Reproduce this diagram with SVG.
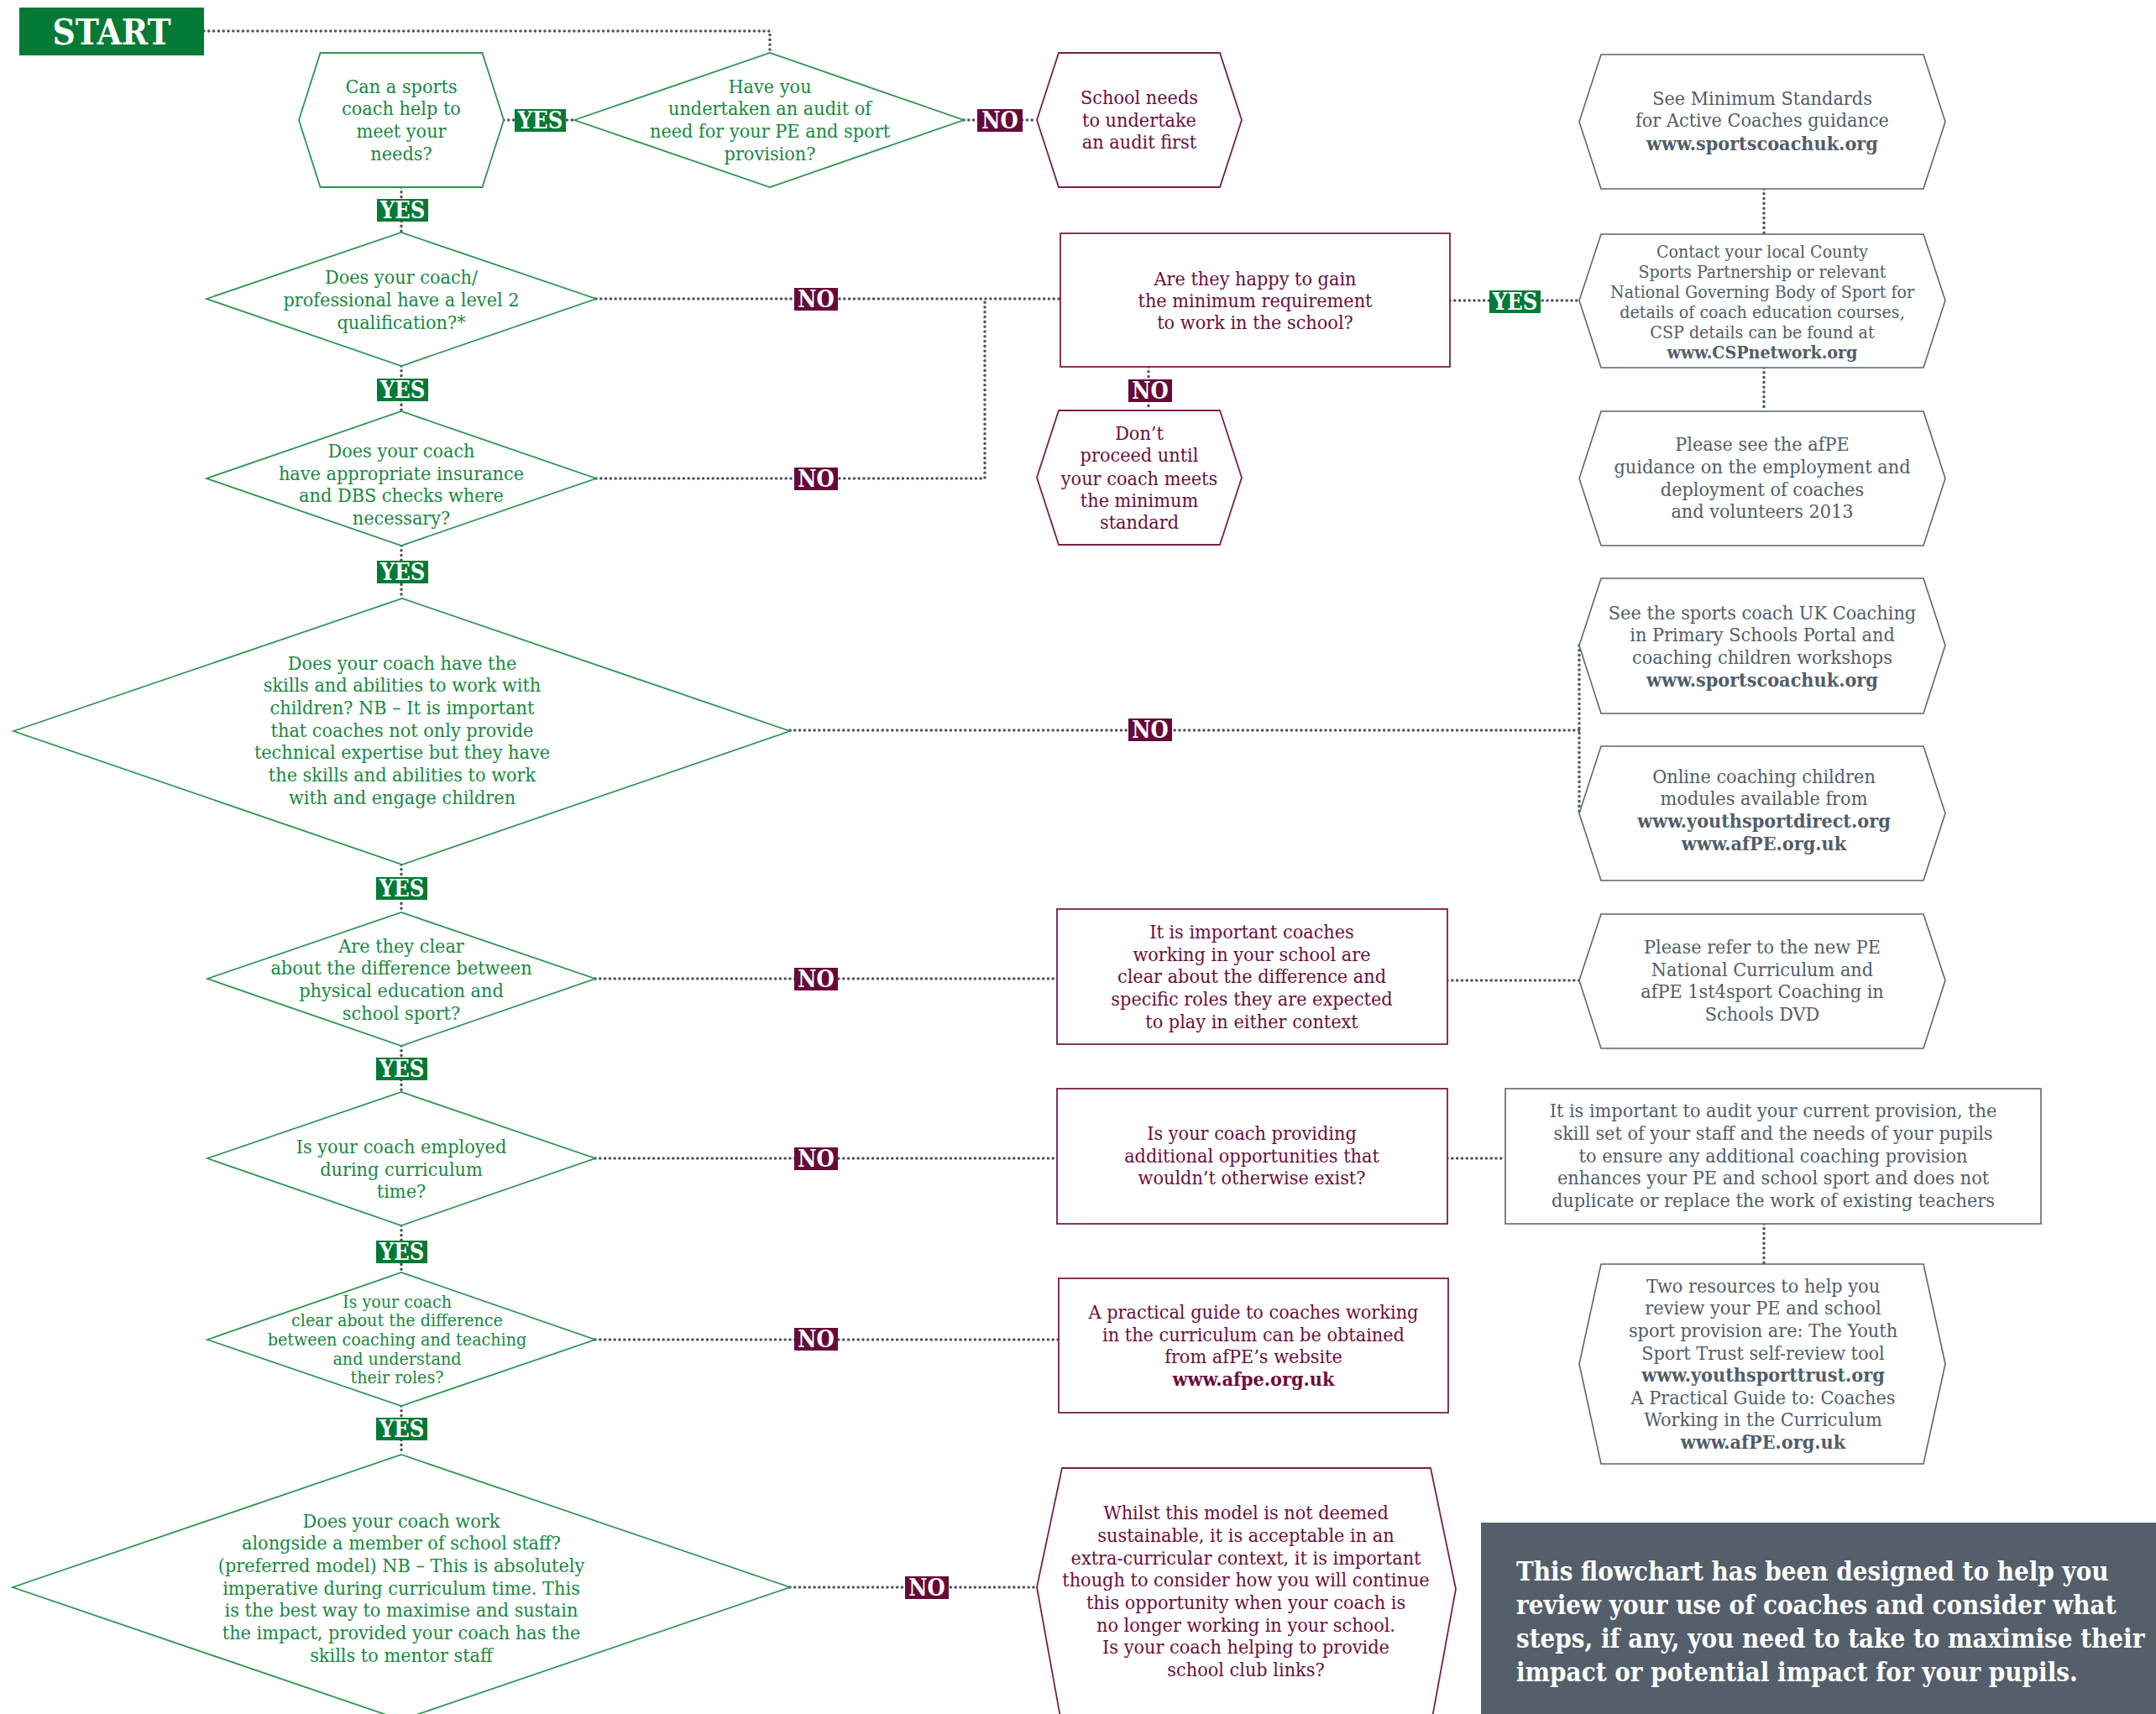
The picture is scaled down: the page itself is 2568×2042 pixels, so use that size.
<svg xmlns="http://www.w3.org/2000/svg" width="2568" height="2042" viewBox="0 0 2568 2042">
<style>
text{font-family:"DejaVu Serif Condensed","DejaVu Serif",serif;font-stretch:condensed;text-anchor:middle;font-size:23.2px}
.gs{fill:#fff;stroke:#2f9450;stroke-width:1.8}
.ms{fill:#fff;stroke:#7a1f4e;stroke-width:1.8}
.ss{fill:#fff;stroke:#5a6672;stroke-width:1.6}
.c{fill:none;stroke:#4b5662;stroke-width:3.6;stroke-dasharray:0 5.8;stroke-linecap:round}
.tg{fill:#17893f}
.tm{fill:#6b0f3d}
.ts{fill:#515d69}
.b{font-weight:bold}
.sm{font-size:21.2px}
.ly{fill:#047a36}
.ln{fill:#660a38}
.lt{fill:#fff;font-weight:bold;font-size:27px}
</style>

<g id="connectors">
<polyline class="c" points="243,37 917,37 917,63"/>
<line class="c" x1="600" y1="143" x2="684" y2="143"/>
<line class="c" x1="1148" y1="143" x2="1235" y2="143"/>
<line class="c" x1="478" y1="223" x2="478" y2="277"/>
<line class="c" x1="710" y1="356" x2="1263" y2="356"/>
<line class="c" x1="478" y1="436" x2="478" y2="490"/>
<polyline class="c" points="710,570 1173,570 1173,356"/>
<line class="c" x1="478" y1="650" x2="478" y2="713"/>
<line class="c" x1="1727" y1="358" x2="1881" y2="358"/>
<line class="c" x1="1368" y1="437" x2="1368" y2="489"/>
<line class="c" x1="2101" y1="225" x2="2101" y2="279"/>
<line class="c" x1="2101" y1="438" x2="2101" y2="490"/>
<line class="c" x1="941" y1="870" x2="1881" y2="870"/>
<line class="c" x1="1881" y1="769" x2="1881" y2="969"/>
<line class="c" x1="478" y1="1030" x2="478" y2="1087"/>
<line class="c" x1="709" y1="1166" x2="1259" y2="1166"/>
<line class="c" x1="1724" y1="1168" x2="1881" y2="1168"/>
<line class="c" x1="478" y1="1246" x2="478" y2="1301"/>
<line class="c" x1="709" y1="1380" x2="1259" y2="1380"/>
<line class="c" x1="1724" y1="1380" x2="1793" y2="1380"/>
<line class="c" x1="2101" y1="1458" x2="2101" y2="1506"/>
<line class="c" x1="478" y1="1460" x2="478" y2="1516"/>
<line class="c" x1="709" y1="1596" x2="1261" y2="1596"/>
<line class="c" x1="478" y1="1675" x2="478" y2="1733"/>
<line class="c" x1="941" y1="1891" x2="1235" y2="1891"/>
</g>

<g id="start">
<rect x="23" y="9" width="220" height="57" fill="#047a36"/>
<text x="133" y="53" class="b" style="font-size:42px" fill="#fff">START</text>
</g>

<g id="n-sports-coach">
<polygon class="gs" points="381.5,63 574.5,63 600,143 574.5,223 381.5,223 356,143"/>
<text class="tg"><tspan x="478" y="111">Can a sports</tspan><tspan x="478" y="137">coach help to</tspan><tspan x="478" y="164">meet your</tspan><tspan x="478" y="191">needs?</tspan></text>
</g>

<g id="n-audit">
<polygon class="gs" points="684,143 917,63 1148,143 917,223"/>
<text class="tg"><tspan x="917" y="111">Have you</tspan><tspan x="917" y="137">undertaken an audit of</tspan><tspan x="917" y="164">need for your PE and sport</tspan><tspan x="917" y="191">provision?</tspan></text>
</g>

<g id="n-school-needs">
<polygon class="ms" points="1261,63 1453,63 1479,143 1453,223 1261,223 1235,143"/>
<text class="tm"><tspan x="1357" y="124">School needs</tspan><tspan x="1357" y="151">to undertake</tspan><tspan x="1357" y="177">an audit first</tspan></text>
</g>

<g id="n-min-standards">
<polygon class="ss" points="1907,65 2291,65 2317,145 2291,225 1907,225 1881,145"/>
<text class="ts"><tspan x="2099" y="125">See Minimum Standards</tspan><tspan x="2099" y="151">for Active Coaches guidance</tspan><tspan x="2099" y="179" class="b">www.sportscoachuk.org</tspan></text>
</g>

<g id="n-level2">
<polygon class="gs" points="246,356 478,277 710,356 478,436"/>
<text class="tg"><tspan x="478" y="338">Does your coach/</tspan><tspan x="478" y="365">professional have a level 2</tspan><tspan x="478" y="392">qualification?*</tspan></text>
</g>

<g id="n-happy">
<rect class="ms" x="1263" y="278" width="464" height="159"/>
<text class="tm"><tspan x="1495" y="340">Are they happy to gain</tspan><tspan x="1495" y="366">the minimum requirement</tspan><tspan x="1495" y="392">to work in the school?</tspan></text>
</g>

<g id="n-contact">
<polygon class="ss" points="1907,279 2291,279 2317,358 2291,438 1907,438 1881,358"/>
<text class="ts sm"><tspan x="2099" y="307">Contact your local County</tspan><tspan x="2099" y="331">Sports Partnership or relevant</tspan><tspan x="2099" y="355">National Governing Body of Sport for</tspan><tspan x="2099" y="379">details of coach education courses,</tspan><tspan x="2099" y="403">CSP details can be found at</tspan><tspan x="2099" y="427" class="b">www.CSPnetwork.org</tspan></text>
</g>

<g id="n-insurance">
<polygon class="gs" points="246,570 478,490 710,570 478,650"/>
<text class="tg"><tspan x="478" y="545">Does your coach</tspan><tspan x="478" y="572">have appropriate insurance</tspan><tspan x="478" y="598">and DBS checks where</tspan><tspan x="478" y="625">necessary?</tspan></text>
</g>

<g id="n-dont-proceed">
<polygon class="ms" points="1261,489 1453,489 1479,569 1453,649 1261,649 1235,569"/>
<text class="tm"><tspan x="1357" y="524">Don’t</tspan><tspan x="1357" y="550">proceed until</tspan><tspan x="1357" y="578">your coach meets</tspan><tspan x="1357" y="604">the minimum</tspan><tspan x="1357" y="630">standard</tspan></text>
</g>

<g id="n-afpe-guidance">
<polygon class="ss" points="1907,490 2291,490 2317,570 2291,650 1907,650 1881,570"/>
<text class="ts"><tspan x="2099" y="537">Please see the afPE</tspan><tspan x="2099" y="564">guidance on the employment and</tspan><tspan x="2099" y="591">deployment of coaches</tspan><tspan x="2099" y="617">and volunteers 2013</tspan></text>
</g>

<g id="n-skills">
<polygon class="gs" points="16,871 479,713 941,871 479,1030"/>
<text class="tg"><tspan x="479" y="798">Does your coach have the</tspan><tspan x="479" y="824">skills and abilities to work with</tspan><tspan x="479" y="851">children? NB – It is important</tspan><tspan x="479" y="878">that coaches not only provide</tspan><tspan x="479" y="904">technical expertise but they have</tspan><tspan x="479" y="931">the skills and abilities to work</tspan><tspan x="479" y="958">with and engage children</tspan></text>
</g>

<g id="n-scuk-portal">
<polygon class="ss" points="1907,689 2291,689 2317,769 2291,850 1907,850 1881,769"/>
<text class="ts"><tspan x="2099" y="738">See the sports coach UK Coaching</tspan><tspan x="2099" y="764">in Primary Schools Portal and</tspan><tspan x="2099" y="791">coaching children workshops</tspan><tspan x="2099" y="818" class="b">www.sportscoachuk.org</tspan></text>
</g>

<g id="n-online">
<polygon class="ss" points="1907,889 2291,889 2317,969 2291,1049 1907,1049 1881,969"/>
<text class="ts"><tspan x="2101" y="933">Online coaching children</tspan><tspan x="2101" y="959">modules available from</tspan><tspan x="2101" y="986" class="b">www.youthsportdirect.org</tspan><tspan x="2101" y="1013" class="b">www.afPE.org.uk</tspan></text>
</g>

<g id="n-pe-vs-sport">
<polygon class="gs" points="247,1166 478,1087 709,1166 478,1246"/>
<text class="tg"><tspan x="478" y="1135">Are they clear</tspan><tspan x="478" y="1161">about the difference between</tspan><tspan x="478" y="1188">physical education and</tspan><tspan x="478" y="1215">school sport?</tspan></text>
</g>

<g id="n-important-coaches">
<rect class="ms" x="1259" y="1083" width="465" height="161"/>
<text class="tm"><tspan x="1491" y="1118">It is important coaches</tspan><tspan x="1491" y="1145">working in your school are</tspan><tspan x="1491" y="1171">clear about the difference and</tspan><tspan x="1491" y="1198">specific roles they are expected</tspan><tspan x="1491" y="1225">to play in either context</tspan></text>
</g>

<g id="n-national-curriculum">
<polygon class="ss" points="1907,1089 2291,1089 2317,1168 2291,1249 1907,1249 1881,1168"/>
<text class="ts"><tspan x="2099" y="1136">Please refer to the new PE</tspan><tspan x="2099" y="1163">National Curriculum and</tspan><tspan x="2099" y="1189">afPE 1st4sport Coaching in</tspan><tspan x="2099" y="1216">Schools DVD</tspan></text>
</g>

<g id="n-curriculum-time">
<polygon class="gs" points="247,1380 478,1301 709,1380 478,1460"/>
<text class="tg"><tspan x="478" y="1374">Is your coach employed</tspan><tspan x="478" y="1401">during curriculum</tspan><tspan x="478" y="1427">time?</tspan></text>
</g>

<g id="n-additional">
<rect class="ms" x="1259" y="1297" width="465" height="161"/>
<text class="tm"><tspan x="1491" y="1358">Is your coach providing</tspan><tspan x="1491" y="1385">additional opportunities that</tspan><tspan x="1491" y="1411">wouldn’t otherwise exist?</tspan></text>
</g>

<g id="n-audit-provision">
<rect class="ss" x="1793" y="1297" width="638" height="161"/>
<text class="ts"><tspan x="2112" y="1331">It is important to audit your current provision, the</tspan><tspan x="2112" y="1358">skill set of your staff and the needs of your pupils</tspan><tspan x="2112" y="1385">to ensure any additional coaching provision</tspan><tspan x="2112" y="1411">enhances your PE and school sport and does not</tspan><tspan x="2112" y="1438">duplicate or replace the work of existing teachers</tspan></text>
</g>

<g id="n-coaching-teaching">
<polygon class="gs" points="247,1596 478,1516 709,1596 478,1675"/>
<text class="tg" style="font-size:21.3px"><tspan x="473" y="1558">Is your coach</tspan><tspan x="473" y="1580">clear about the difference</tspan><tspan x="473" y="1603">between coaching and teaching</tspan><tspan x="473" y="1626">and understand</tspan><tspan x="473" y="1648">their roles?</tspan></text>
</g>

<g id="n-practical-guide">
<rect class="ms" x="1261" y="1523" width="464" height="160"/>
<text class="tm"><tspan x="1493" y="1571">A practical guide to coaches working</tspan><tspan x="1493" y="1598">in the curriculum can be obtained</tspan><tspan x="1493" y="1624">from afPE’s website</tspan><tspan x="1493" y="1651" class="b">www.afpe.org.uk</tspan></text>
</g>

<g id="n-two-resources">
<polygon class="ss" points="1907,1506 2291,1506 2317,1625 2291,1744 1907,1744 1881,1625"/>
<text class="ts"><tspan x="2100" y="1540">Two resources to help you</tspan><tspan x="2100" y="1566">review your PE and school</tspan><tspan x="2100" y="1593">sport provision are: The Youth</tspan><tspan x="2100" y="1620">Sport Trust self-review tool</tspan><tspan x="2100" y="1646" class="b">www.youthsporttrust.org</tspan><tspan x="2100" y="1673">A Practical Guide to: Coaches</tspan><tspan x="2100" y="1699">Working in the Curriculum</tspan><tspan x="2100" y="1726" class="b">www.afPE.org.uk</tspan></text>
</g>

<g id="n-alongside-staff">
<polygon class="gs" points="15,1891 478,1733 941,1891 478,2049"/>
<text class="tg"><tspan x="478" y="1820">Does your coach work</tspan><tspan x="478" y="1846">alongside a member of school staff?</tspan><tspan x="478" y="1873">(preferred model) NB – This is absolutely</tspan><tspan x="478" y="1900">imperative during curriculum time. This</tspan><tspan x="478" y="1926">is the best way to maximise and sustain</tspan><tspan x="478" y="1953">the impact, provided your coach has the</tspan><tspan x="478" y="1980">skills to mentor staff</tspan></text>
</g>

<g id="n-extra-curricular">
<polygon class="ms" points="1265,1749 1704,1749 1734,1893 1706,2046 1263,2046 1235,1891"/>
<text class="tm"><tspan x="1484" y="1810">Whilst this model is not deemed</tspan><tspan x="1484" y="1837">sustainable, it is acceptable in an</tspan><tspan x="1484" y="1864">extra-curricular context, it is important</tspan><tspan x="1484" y="1890">though to consider how you will continue</tspan><tspan x="1484" y="1917">this opportunity when your coach is</tspan><tspan x="1484" y="1944">no longer working in your school.</tspan><tspan x="1484" y="1970">Is your coach helping to provide</tspan><tspan x="1484" y="1997">school club links?</tspan></text>
</g>

<g id="n-info-box">
<rect x="1764" y="1814" width="804" height="228" fill="#545f6b"/>
<text fill="#fff" style="text-anchor:start;font-size:31px;font-weight:600"><tspan x="1806" y="1883">This flowchart has been designed to help you</tspan><tspan x="1806" y="1923">review your use of coaches and consider what</tspan><tspan x="1806" y="1963">steps, if any, you need to take to maximise their</tspan><tspan x="1806" y="2003">impact or potential impact for your pupils.</tspan></text>
</g>

<g id="labels">
<rect class="ly" x="613" y="130" width="61" height="27"/><text class="lt" x="643.5" y="153">YES</text>
<rect class="ln" x="1164" y="130" width="54" height="27"/><text class="lt" x="1191" y="153">NO</text>
<rect class="ly" x="449" y="237" width="61" height="27"/><text class="lt" x="479.5" y="260">YES</text>
<rect class="ln" x="946" y="343" width="52" height="27"/><text class="lt" x="972" y="366">NO</text>
<rect class="ly" x="449" y="451" width="61" height="27"/><text class="lt" x="479.5" y="474">YES</text>
<rect class="ln" x="946" y="557" width="52" height="27"/><text class="lt" x="972" y="580">NO</text>
<rect class="ly" x="449" y="668" width="61" height="27"/><text class="lt" x="479.5" y="691">YES</text>
<rect class="ly" x="1774" y="346" width="61" height="27"/><text class="lt" x="1804.5" y="369">YES</text>
<rect class="ln" x="1344" y="452" width="52" height="27"/><text class="lt" x="1370" y="475">NO</text>
<rect class="ln" x="1344" y="856" width="52" height="27"/><text class="lt" x="1370" y="879">NO</text>
<rect class="ly" x="448" y="1045" width="61" height="27"/><text class="lt" x="478.5" y="1068">YES</text>
<rect class="ln" x="946" y="1153" width="52" height="27"/><text class="lt" x="972" y="1176">NO</text>
<rect class="ly" x="448" y="1260" width="61" height="27"/><text class="lt" x="478.5" y="1283">YES</text>
<rect class="ln" x="946" y="1367" width="52" height="27"/><text class="lt" x="972" y="1390">NO</text>
<rect class="ly" x="448" y="1478" width="61" height="27"/><text class="lt" x="478.5" y="1501">YES</text>
<rect class="ln" x="946" y="1582" width="52" height="27"/><text class="lt" x="972" y="1605">NO</text>
<rect class="ly" x="448" y="1689" width="61" height="27"/><text class="lt" x="478.5" y="1712">YES</text>
<rect class="ln" x="1078" y="1878" width="52" height="27"/><text class="lt" x="1104" y="1901">NO</text>
</g>
</svg>
